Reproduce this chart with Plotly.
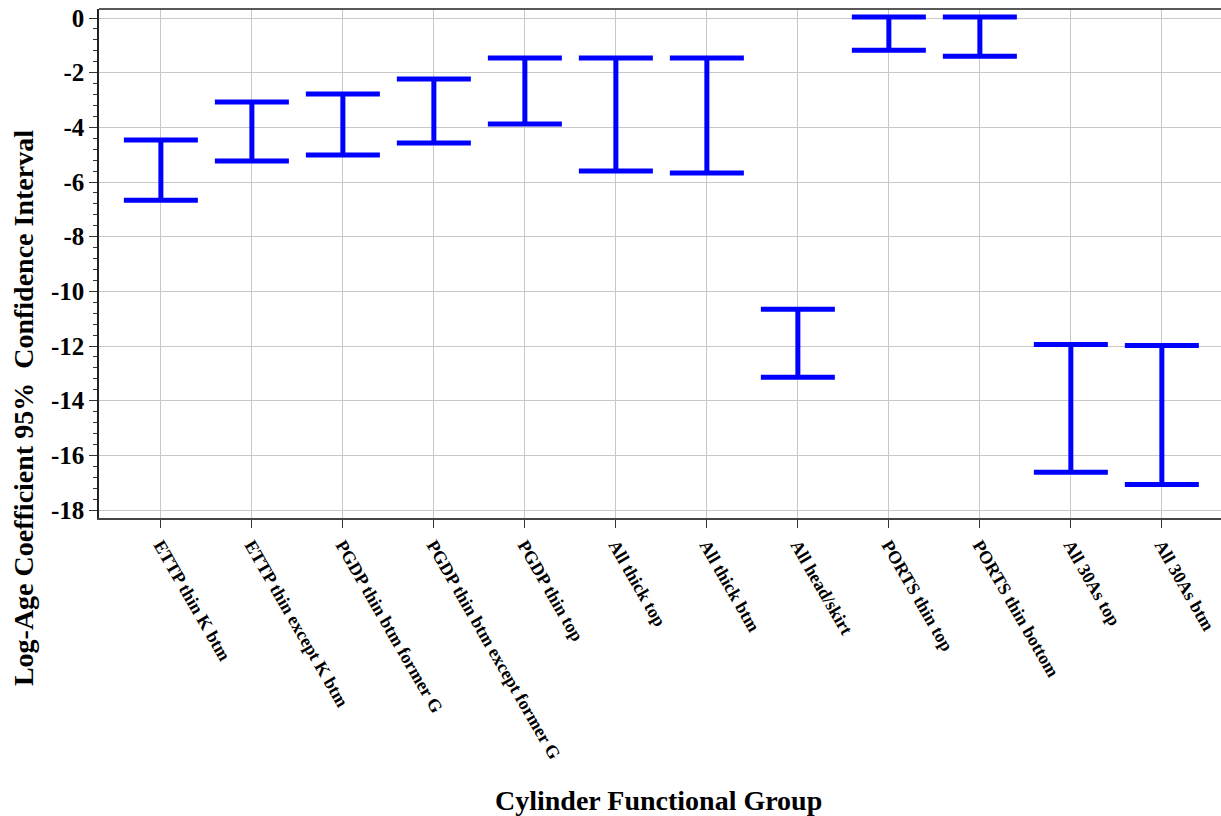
import plotly.graph_objects as go

groups = [
    "ETTP thin K btm",
    "ETTP thin except K btm",
    "PGDP thin btm former G",
    "PGDP thin btm except former G",
    "PGDP thin top",
    "All thick top",
    "All thick btm",
    "All head/skirt",
    "PORTS thin top",
    "PORTS thin bottom",
    "All 30As top",
    "All 30As btm",
]
ci_upper = [-4.46, -3.07, -2.78, -2.23, -1.46, -1.46, -1.46, -10.65, 0.04, 0.04, -11.94, -11.98]
ci_lower = [-6.67, -5.23, -5.01, -4.57, -3.88, -5.60, -5.67, -13.14, -1.18, -1.40, -16.62, -17.06]
y_ticks = [0, -2, -4, -6, -8, -10, -12, -14, -16, -18]
y_ticktext = ["0", "-2", "-4", "-6", "-8", "-10", "-12", "-14", "-16", "-18"]

FONT = "Liberation Serif"
BLUE = "#0000ff"

mid = [(u + l) / 2 for u, l in zip(ci_upper, ci_lower)]
half = [(u - l) / 2 for u, l in zip(ci_upper, ci_lower)]

fig = go.Figure()
fig.add_trace(
    go.Scatter(
        x=list(range(len(groups))),
        y=mid,
        mode="markers",
        marker=dict(size=1, opacity=0),
        error_y=dict(type="data", array=half, symmetric=True,
                     color=BLUE, thickness=5, width=37),
        showlegend=False,
    )
)

fig.update_layout(
    width=1221,
    height=816,
    margin=dict(l=99, r=0, t=9, b=298),
    paper_bgcolor="white",
    plot_bgcolor="white",
    font=dict(family=FONT, color="black"),
    xaxis=dict(
        range=[-0.68, 11.65],
        tickmode="array",
        tickvals=list(range(len(groups))),
        ticktext=groups,
        tickangle=60,
        tickfont=dict(family=FONT, size=18, color="black", weight="bold"),
        ticks="outside", ticklen=8, tickcolor="#333",
        showgrid=True, gridcolor="#c8c8c8", gridwidth=1,
        showline=True, linecolor="#444", linewidth=1.5,
        mirror=False, zeroline=False, automargin=False,
    ),
    yaxis=dict(
        range=[-18.29, 0.33],
        tickmode="array", tickvals=y_ticks, ticktext=y_ticktext,
        tickfont=dict(family=FONT, size=25, color="black", weight="bold"),
        ticks="outside", ticklen=8, tickcolor="#333",
        minor=dict(dtick=0.4, tick0=0, ticks="outside", ticklen=4, tickcolor="#333", showgrid=False),
        showgrid=True, gridcolor="#c8c8c8", gridwidth=1,
        showline=True, linecolor="#222", linewidth=1.5,
        zeroline=False, automargin=False,
    ),
)

# top border line
fig.add_shape(type="line", xref="paper", yref="paper", x0=0, x1=1, y0=1, y1=1,
              line=dict(color="#222", width=1.5))

fig.add_annotation(
    text="Log-Age Coefficient 95%  Confidence Interval",
    xref="paper", yref="paper", x=-0.0677, y=0.216,
    xanchor="center", yanchor="middle", textangle=-90, showarrow=False,
    font=dict(family=FONT, size=28, color="black", weight="bold"),
)
fig.add_annotation(
    text="Cylinder Functional Group",
    xref="paper", yref="paper", x=0.499, y=-0.555,
    xanchor="center", yanchor="middle", showarrow=False,
    font=dict(family=FONT, size=28, color="black", weight="bold"),
)

fig.write_html(
    "out.html",
    config={"displayModeBar": False},
    post_script="document.body.style.margin='0';",
)
